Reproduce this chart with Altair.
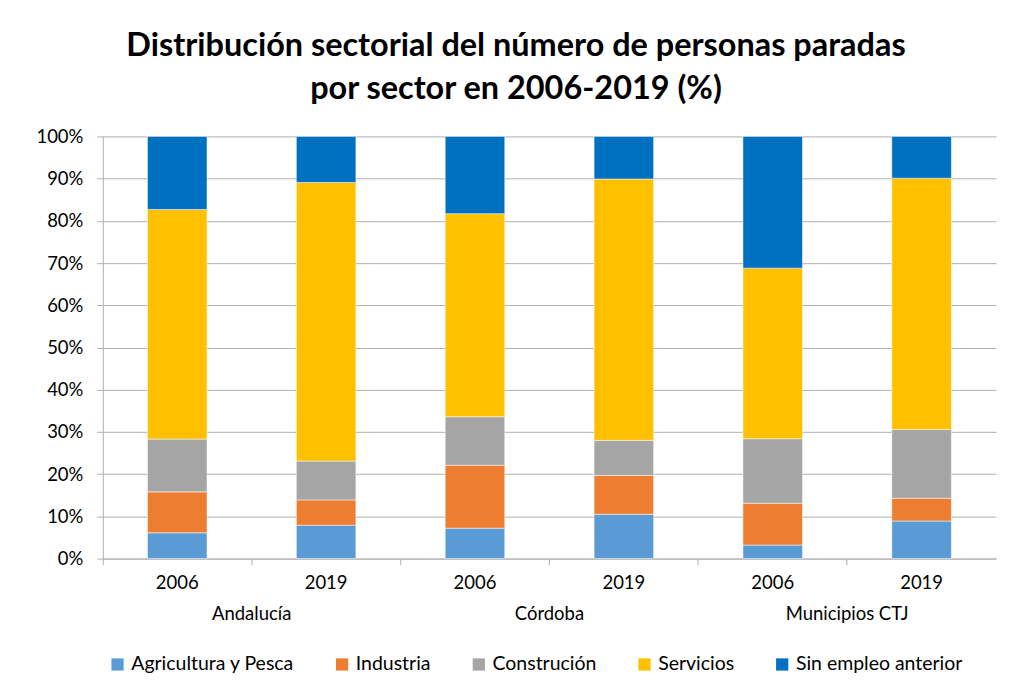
import altair as alt
import pandas as pd

regions = ["Andalucía", "Andalucía", "Córdoba", "Córdoba", "Municipios CTJ", "Municipios CTJ"]
years = ["2006", "2019", "2006", "2019", "2006", "2019"]
sectors = ["Agricultura y Pesca", "Industria", "Construción", "Servicios", "Sin empleo anterior"]
colors = ["#5B9BD5", "#ED7D31", "#A5A5A5", "#FFC000", "#0070C0"]

# shares (%)
agricultura = [6.1, 7.9, 7.2, 10.5, 3.2, 8.9]
industria = [9.7, 6.0, 14.9, 9.2, 9.9, 5.4]
construccion = [12.5, 9.2, 11.5, 8.3, 15.3, 16.3]
servicios = [54.4, 66.0, 48.1, 61.9, 40.4, 59.5]
sin_empleo = [17.3, 10.9, 18.3, 10.1, 31.2, 9.9]

series = [agricultura, industria, construccion, servicios, sin_empleo]

rows = []
for si, (sec, vals) in enumerate(zip(sectors, series)):
    for i, v in enumerate(vals):
        rows.append({"cat": f"{regions[i]}|{years[i]}", "year": years[i],
                     "region": regions[i], "sector": sec, "order": si,
                     "value": v / 100.0})
df = pd.DataFrame(rows)
cats = [f"{r}|{y}" for r, y in zip(regions, years)]

groups = pd.DataFrame({"region": ["Andalucía", "Córdoba", "Municipios CTJ"],
                       "cat": [cats[1], cats[3], cats[5]]})

FONT = "Lato"
W, H = 895, 423
LBL = 18.5

xscale = alt.Scale(domain=cats, paddingInner=0, paddingOuter=0)

bars = alt.Chart(df).mark_bar(
    width=alt.RelativeBandSize(0.4), stroke="white", strokeWidth=1, strokeOpacity=0.5
).encode(
    x=alt.X("cat:N", scale=xscale, sort=cats, title=None,
            axis=alt.Axis(bandPosition=0, labelAngle=0,
                          labelExpr="split(datum.label, '|')[1]",
                          labelFontSize=LBL, labelColor="#000000", labelFont=FONT,
                          labelPadding=9, tickSize=6, tickColor="#B0B0B0",
                          domainColor="#B0B0B0", grid=False)),
    y=alt.Y("value:Q", stack="zero", title=None,
            scale=alt.Scale(domain=[0, 1], nice=False),
            axis=alt.Axis(format=".0%", values=[i / 10 for i in range(11)],
                          labelFontSize=LBL, labelColor="#000000", labelFont=FONT,
                          labelPadding=14, tickSize=6, tickColor="#B0B0B0",
                          domainColor="#B0B0B0", gridColor="#B0B0B0")),
    color=alt.Color("sector:N", scale=alt.Scale(domain=sectors, range=colors),
                    sort=sectors, title=None,
                    legend=alt.Legend(orient="none", direction="horizontal", columns=5,
                                      legendX=5, legendY=519, symbolType="square",
                                      symbolSize=150, symbolStrokeWidth=0,
                                      labelFontSize=19.5, labelFont=FONT, labelLimit=400,
                                      labelColor="#000000", columnPadding=38,
                                      symbolOffset=0, labelOffset=4)),
    order=alt.Order("order:Q", sort="ascending"),
)

glabels = alt.Chart(groups).mark_text(
    fontSize=LBL, font=FONT, color="#000000", baseline="middle"
).encode(
    x=alt.X("cat:N", scale=xscale, sort=cats, bandPosition=0),
    y=alt.value(H + 56),
    text="region:N",
)

chart = alt.layer(bars, glabels).properties(
    width=W, height=H,
    autosize=alt.AutoSizeParams(type="none"),
    padding={"left": 95, "top": 128, "right": 10, "bottom": 118},
    title=alt.TitleParams(
        text=["Distribución sectorial del número de personas paradas",
              "por sector en 2006-2019 (%)"],
        fontSize=32.5, font=FONT, fontWeight="bold", color="#000000",
        anchor="middle", frame="bounds", lineHeight=43, offset=22),
).configure_view(stroke=None).configure_axis(
    labelFont=FONT
)

chart.save("out.html", embed_options={"renderer": "svg", "actions": False})
